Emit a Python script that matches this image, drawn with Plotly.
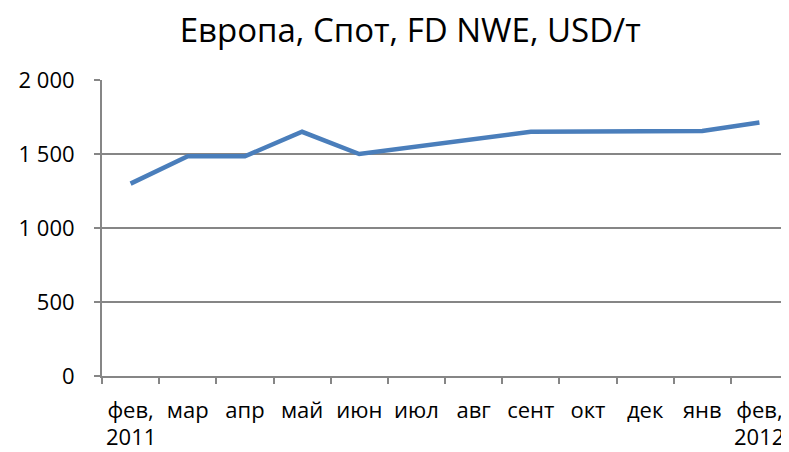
import plotly.graph_objects as go

months = ["фев, 2011", "мар", "апр", "май", "июн", "июл", "авг", "сент", "окт", "дек", "янв", "фев, 2012"]
prices = [1300, 1485, 1485, 1650, 1500, 1550, 1600, 1650, 1652, 1654, 1656, 1713]
y_ticks = [0, 500, 1000, 1500, 2000]
title_text = "Европа, Спот, FD NWE, USD/т"

FONT = "Open Sans"
TICK_SIZE = 22

# page body has an 8px margin; the figure is sized to fill the rest of the window
fig = go.Figure()
fig.add_trace(go.Scatter(
    x=months, y=prices, mode="lines",
    line=dict(color="#4A7EBB", width=4.5),
    hoverinfo="x+y",
))

tick_text = [m.split(" ")[0] for m in months]
for m in months:
    parts = m.split(" ")
    if len(parts) > 1:
        fig.add_annotation(
            x=m, xref="x", y=-0.203, yref="paper", yanchor="middle", xanchor="center",
            text=parts[1], showarrow=False, borderpad=0,
            font=dict(family=FONT, size=TICK_SIZE, color="#000000"),
        )

fig.update_layout(
    width=781, height=444,
    margin=dict(l=94, r=1, t=72, b=76, autoexpand=False),
    paper_bgcolor="white", plot_bgcolor="white",
    separators=", ",
    showlegend=False,
    title=dict(text=title_text, x=0.515, xanchor="center", y=0.95, yanchor="middle",
               font=dict(family=FONT, size=33, color="#000000")),
    font=dict(family=FONT, size=TICK_SIZE, color="#000000"),
)
fig.update_xaxes(
    type="category", range=[-0.5, 11.5],
    tickmode="array", tickvals=months, ticktext=tick_text, tickangle=0,
    showline=True, linecolor="#868686", linewidth=2,
    ticks="outside", tickson="boundaries", ticklen=6, tickwidth=2, tickcolor="#868686",
    showgrid=False, ticklabelstandoff=14,
    tickfont=dict(family=FONT, size=TICK_SIZE, color="#000000"),
)
fig.update_yaxes(
    range=[0, 2000], tickvals=y_ticks, tickformat=",d",
    showline=True, linecolor="#868686", linewidth=2,
    ticks="outside", ticklen=6, tickwidth=2, tickcolor="#868686",
    showgrid=True, gridcolor="#868686", gridwidth=2,
    zeroline=False, ticklabelstandoff=15,
    tickfont=dict(family=FONT, size=TICK_SIZE, color="#000000"),
)

fig.write_html("out.html")
